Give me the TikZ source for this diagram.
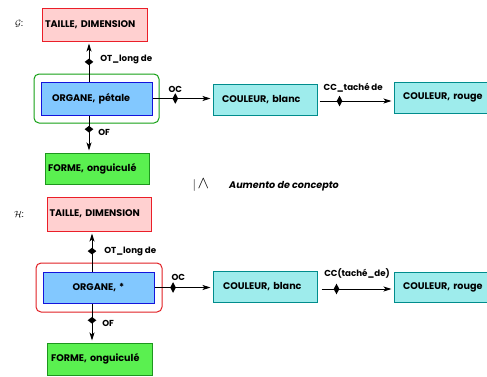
\documentclass[tikz,border=0pt]{standalone}
\usepackage{fontspec}
\setmainfont{Poppins}
\usetikzlibrary{arrows.meta,shapes.geometric}

\definecolor{tailleFill}{RGB}{255,208,208}
\definecolor{tailleLine}{RGB}{235,30,40}
\definecolor{organeFill}{RGB}{130,200,255}
\definecolor{organeLine}{RGB}{20,20,220}
\definecolor{formeFill}{RGB}{90,240,80}
\definecolor{formeLine}{RGB}{30,150,30}
\definecolor{couleurFill}{RGB}{158,236,236}
\definecolor{couleurLine}{RGB}{0,140,140}
\definecolor{frameGreen}{RGB}{20,160,20}
\definecolor{frameRed}{RGB}{225,30,35}

\tikzset{
  box/.style={draw, line width=1pt, font=\fontsize{9.6}{11}\selectfont\bfseries,
    inner ysep=0pt, align=left},
  taille/.style={box, draw=tailleLine, fill=tailleFill},
  organe/.style={box, draw=organeLine, fill=organeFill},
  forme/.style={box, draw=formeLine, fill=formeFill},
  couleur/.style={box, draw=couleurLine, fill=couleurFill},
  frame/.style={draw, rounded corners=5pt, line width=1pt},
  rel/.style={draw, line width=0.8pt, -{Stealth[length=8pt,width=5pt,inset=2pt]},
    shorten >=2pt},
  vdia/.style={diamond, fill=black, inner sep=0pt, minimum width=9pt, minimum height=7pt},
  hdia/.style={diamond, fill=black, inner sep=0pt, minimum width=6pt, minimum height=11pt},
  lbl/.style={font=\fontsize{8.7}{10}\selectfont\bfseries, inner sep=1pt},
}

\begin{document}
\begin{tikzpicture}[x=1pt,y=-1pt]
\useasboundingbox (0,0) rectangle (487,376);

% ---------- graph G ----------
\node[font=\small] (gname) at (19,24) {$\mathcal{G}$:};
\node[frame, draw=frameGreen, minimum width=125pt, minimum height=49pt] (gframe) at (96.5,98.5) {};
\node[taille, minimum width=105pt, minimum height=33pt, inner xsep=3pt, text width=99pt] (tG) at (94.5,24.5) {TAILLE, DIMENSION};
\node[organe, minimum width=111pt, minimum height=33pt, inner xsep=11pt, text width=89pt] (oG) at (96.5,98.5) {ORGANE, pétale};
\node[forme, minimum width=104pt, minimum height=31pt, inner xsep=3pt, text width=98pt] (fG) at (97,168.5) {FORME, onguiculé};
\node[couleur, minimum width=104pt, minimum height=31pt, inner xsep=9pt, text width=86pt] (cbG) at (265,99.5) {COULEUR, blanc};
\node[couleur, minimum width=102pt, minimum height=31pt, inner xsep=9pt, text width=84pt] (crG) at (445,97.5) {COULEUR, rouge};

\coordinate (gv) at (89,0);
\coordinate (gh) at (0,101);
\draw[rel] (oG.north -| gv) -- (tG.south -| gv)
  node[vdia, pos=0.49] (dG1) {}
  node[lbl, pos=0.56, anchor=west, xshift=10pt] (lG1) {OT\_long de};
\draw[rel] (oG.south -| gv) -- (fG.north -| gv)
  node[vdia, pos=0.37] (dG2) {}
  node[lbl, pos=0.47, anchor=west, xshift=8pt] (lG2) {OF};
\draw[rel] (oG.east) -- (cbG.west |- oG.east)
  node[hdia, pos=0.38] (dG3) {}
  node[lbl, pos=0.38, anchor=south, yshift=5pt] (lG3) {OC};
\draw[rel, shorten <=2pt] (cbG.east |- gh) -- (crG.west |- gh)
  node[hdia, pos=0.29] (dG4) {}
  node[lbl, pos=0.47, anchor=south, yshift=7pt] (lG4) {CC\_taché de};

% ---------- specialisation ----------
\node[inner sep=0pt] (spec) at (201,185)
  {{\fontsize{13}{13}\selectfont$|$}\,{\fontsize{19}{19}\selectfont$\wedge$}};
\node[font=\fontsize{9.6}{11}\selectfont\bfseries\itshape, anchor=west, inner sep=0pt] (speclbl) at (229,186) {Aumento de concepto};

% ---------- graph H ----------
\node[font=\small] (hname) at (19,214) {$\mathcal{H}$:};
\node[frame, draw=frameRed, minimum width=126pt, minimum height=49pt] (hframe) at (99,287.5) {};
\node[taille, minimum width=104pt, minimum height=34pt, inner xsep=2.5pt, text width=99pt] (tH) at (99,214) {TAILLE, DIMENSION};
\node[organe, minimum width=111pt, minimum height=31pt, inner xsep=4pt, text width=103pt, align=center] (oH) at (98.5,287.5) {ORGANE, *};
\node[forme, minimum width=105pt, minimum height=32pt, inner xsep=4pt, text width=97pt] (fH) at (99.5,359) {FORME, onguiculé};
\node[couleur, minimum width=104pt, minimum height=31pt, inner xsep=10pt, text width=84pt] (cbH) at (265,286.5) {COULEUR, blanc};
\node[couleur, minimum width=102pt, minimum height=30pt, inner xsep=9pt, text width=84pt] (crH) at (445,287) {COULEUR, rouge};

\coordinate (hv) at (92,0);
\coordinate (hh) at (0,289);
\draw[rel] (oH.north -| hv) -- (tH.south -| hv)
  node[vdia, pos=0.51] (dH1) {}
  node[lbl, pos=0.51, anchor=west, xshift=11pt] (lH1) {OT\_long de};
\draw[rel] (oH.south -| hv) -- (fH.north -| hv)
  node[vdia, pos=0.43] (dH2) {}
  node[lbl, pos=0.5, anchor=west, xshift=9pt] (lH2) {OF};
\draw[rel] (oH.east) -- (cbH.west |- oH.east)
  node[hdia, pos=0.32] (dH3) {}
  node[lbl, pos=0.41, anchor=south, yshift=6pt] (lH3) {OC};
\draw[rel, shorten <=4pt] (cbH.east |- hh) -- (crH.west |- hh)
  node[hdia, pos=0.25] (dH4) {}
  node[lbl, pos=0.52, anchor=south, yshift=9pt] (lH4) {CC(taché\_de)};
\end{tikzpicture}
\end{document}
